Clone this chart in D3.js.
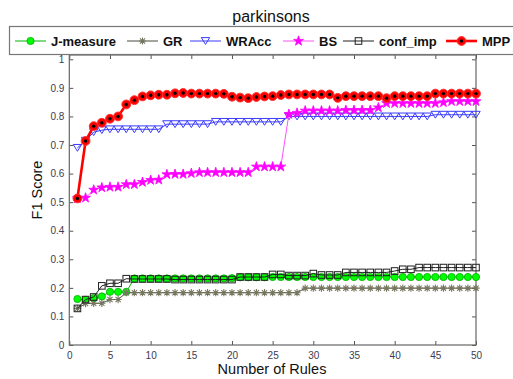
<!DOCTYPE html>
<html>
<head>
<meta charset="utf-8">
<script src="https://cdn.jsdelivr.net/npm/d3@7"></script>
<style>
  body { margin: 0; background: #fff; }
  svg { display: block; font-family: "Liberation Sans", Arial, sans-serif; }
</style>
</head>
<body>
<svg id="chart" width="513" height="379"></svg>
<script>
// number of rules 1..50
const rules = d3.range(1, 51);

const jMeasure = [0.161, 0.158, 0.164, 0.170, 0.186, 0.186, 0.186, 0.233, 0.233, 0.233,
    0.233, 0.233, 0.233, 0.233, 0.233, 0.233, 0.233, 0.233, 0.233, 0.234,
    0.237, 0.237, 0.237, 0.237, 0.238, 0.238, 0.238, 0.238, 0.238, 0.238,
    0.238, 0.238, 0.238, 0.238, 0.238, 0.238, 0.238, 0.238, 0.238, 0.238,
    0.238, 0.238, 0.238, 0.238, 0.238, 0.238, 0.238, 0.238, 0.238, 0.238];

const gr = [0.128, 0.145, 0.146, 0.146, 0.159, 0.159, 0.183, 0.183, 0.183, 0.183,
    0.183, 0.183, 0.183, 0.183, 0.183, 0.183, 0.183, 0.183, 0.183, 0.183,
    0.183, 0.183, 0.183, 0.183, 0.183, 0.183, 0.183, 0.183, 0.199, 0.199,
    0.199, 0.199, 0.199, 0.199, 0.199, 0.199, 0.199, 0.199, 0.199, 0.199,
    0.199, 0.199, 0.199, 0.199, 0.199, 0.199, 0.199, 0.199, 0.199, 0.199];

const wracc = [0.690, 0.715, 0.745, 0.752, 0.755, 0.755, 0.755, 0.755, 0.755, 0.755,
    0.755, 0.773, 0.773, 0.773, 0.773, 0.773, 0.773, 0.781, 0.781, 0.781,
    0.781, 0.781, 0.781, 0.781, 0.781, 0.781, 0.800, 0.800, 0.800, 0.800,
    0.800, 0.800, 0.800, 0.800, 0.800, 0.800, 0.800, 0.800, 0.800, 0.800,
    0.800, 0.800, 0.800, 0.800, 0.806, 0.806, 0.806, 0.806, 0.806, 0.806];

const bs = [0.513, 0.515, 0.543, 0.551, 0.553, 0.553, 0.562, 0.562, 0.570, 0.577,
    0.578, 0.597, 0.598, 0.598, 0.601, 0.604, 0.604, 0.604, 0.604, 0.604,
    0.604, 0.604, 0.624, 0.624, 0.624, 0.624, 0.808, 0.812, 0.820, 0.820,
    0.820, 0.820, 0.820, 0.822, 0.822, 0.822, 0.822, 0.831, 0.846, 0.846,
    0.846, 0.846, 0.846, 0.846, 0.846, 0.849, 0.853, 0.853, 0.853, 0.853];

const confImp = [0.128, 0.159, 0.168, 0.207, 0.216, 0.216, 0.232, 0.231, 0.231, 0.231,
    0.231, 0.231, 0.229, 0.229, 0.229, 0.229, 0.229, 0.229, 0.229, 0.229,
    0.238, 0.238, 0.238, 0.238, 0.247, 0.247, 0.243, 0.243, 0.243, 0.250,
    0.245, 0.245, 0.245, 0.254, 0.254, 0.254, 0.254, 0.254, 0.254, 0.259,
    0.265, 0.265, 0.271, 0.271, 0.271, 0.271, 0.271, 0.271, 0.271, 0.271];

const mpp = [0.513, 0.714, 0.766, 0.778, 0.792, 0.800, 0.842, 0.857, 0.870, 0.874,
    0.876, 0.876, 0.881, 0.882, 0.880, 0.880, 0.880, 0.880, 0.879, 0.869,
    0.866, 0.864, 0.868, 0.870, 0.871, 0.875, 0.877, 0.877, 0.877, 0.877,
    0.877, 0.877, 0.865, 0.871, 0.871, 0.871, 0.871, 0.871, 0.864, 0.871,
    0.871, 0.871, 0.871, 0.871, 0.880, 0.880, 0.880, 0.880, 0.880, 0.880];

const xTicks = [0, 5, 10, 15, 20, 25, 30, 35, 40, 45, 50];
const yTicks = [0, 0.1, 0.2, 0.3, 0.4, 0.5, 0.6, 0.7, 0.8, 0.9, 1];

const plot = { left: 69.3, right: 476, top: 55, bottom: 345 };

const x = d3.scaleLinear().domain([0, 50]).range([plot.left, plot.right]);
const y = d3.scaleLinear().domain([0, 1]).range([plot.bottom, 59.3]);

const svg = d3.select("#chart");

// custom marker shapes
const starPath = d3.symbol().type(d3.symbolStar).size(30)();
const trianglePath = (() => {
    // downward triangle, matlab 'v'
    const w = 4.2, h = 3.4;
    return `M${-w},${-h}L${w},${-h}L0,${h}Z`;
})();
const asteriskPath = (() => {
    const r = 3.6, d = r * 0.72;
    return `M${-r},0L${r},0M0,${-r}L0,${r}M${-d},${-d}L${d},${d}M${-d},${d}L${d},${-d}`;
})();

const series = [
    { name: "J-measure", values: jMeasure, line: "#00b400", width: 1, marker: "circle",
      fill: "#00ff00", stroke: "#00a800" },
    { name: "GR", values: gr, line: "#4a4a40", width: 1, marker: "asterisk",
      fill: "none", stroke: "#77775f" },
    { name: "WRAcc", values: wracc, line: "#3a3aff", width: 1, marker: "triangle",
      fill: "none", stroke: "#3a3aff" },
    { name: "BS", values: bs, line: "#ff50ff", width: 1, marker: "star",
      fill: "#ff00ff", stroke: "#ff00ff" },
    { name: "conf_imp", values: confImp, line: "#202020", width: 1, marker: "square",
      fill: "none", stroke: "#202020" },
    { name: "MPP", values: mpp, line: "#ff0000", width: 2.6, marker: "mpp",
      fill: "#ff0000", stroke: "#ff0000" },
];

function drawMarker(g, s) {
    if (s.marker === "circle") {
        g.append("circle").attr("r", 3.6)
            .attr("fill", s.fill).attr("stroke", s.stroke).attr("stroke-width", 0.8);
    } else if (s.marker === "asterisk") {
        g.append("path").attr("d", asteriskPath)
            .attr("fill", "none").attr("stroke", s.stroke).attr("stroke-width", 1.1);
    } else if (s.marker === "triangle") {
        g.append("path").attr("d", trianglePath)
            .attr("fill", "none").attr("stroke", s.stroke).attr("stroke-width", 1);
    } else if (s.marker === "star") {
        g.append("path").attr("d", starPath)
            .attr("fill", s.fill).attr("stroke", s.stroke).attr("stroke-width", 0.8);
    } else if (s.marker === "square") {
        g.append("rect").attr("x", -3.3).attr("y", -3.3).attr("width", 6.6).attr("height", 6.6)
            .attr("fill", "none").attr("stroke", s.stroke).attr("stroke-width", 1);
    } else if (s.marker === "mpp") {
        g.append("circle").attr("r", 4.4).attr("fill", "#ff0000")
            .attr("stroke", "#ff3030").attr("stroke-width", 1);
        g.append("circle").attr("r", 1.7).attr("fill", "#000");
    }
}

// axes (inward ticks)
const tickFmt = d => d3.format("~g")(d);

svg.append("g")
    .attr("transform", `translate(0,${plot.bottom})`)
    .call(d3.axisBottom(x).tickValues(xTicks).tickSize(-4).tickPadding(7).tickFormat(tickFmt))
    .call(g => g.select(".domain").remove());

svg.append("g")
    .attr("transform", `translate(0,${plot.top})`)
    .call(d3.axisTop(x).tickValues(xTicks).tickSize(-4).tickFormat(""))
    .call(g => g.select(".domain").remove());

svg.append("g")
    .attr("transform", `translate(${plot.left},0)`)
    .call(d3.axisLeft(y).tickValues(yTicks).tickSize(-4).tickPadding(5).tickFormat(tickFmt))
    .call(g => g.select(".domain").remove());

svg.append("g")
    .attr("transform", `translate(${plot.right},0)`)
    .call(d3.axisRight(y).tickValues(yTicks).tickSize(-4).tickFormat(""))
    .call(g => g.select(".domain").remove());

svg.selectAll(".tick line").attr("stroke", "#555");
svg.selectAll(".tick text")
    .attr("fill", "#3c3c50")
    .style("font-size", "10px")
    .style("font-family", "Liberation Sans, Arial, sans-serif");

svg.append("rect")
    .attr("x", plot.left).attr("y", plot.top)
    .attr("width", plot.right - plot.left).attr("height", plot.bottom - plot.top)
    .attr("fill", "none").attr("stroke", "#666").attr("stroke-width", 1.2);

// series
const line = d3.line().x((d, i) => x(rules[i])).y(d => y(d));

series.forEach(s => {
    const g = svg.append("g").attr("class", "series");
    g.append("path")
        .datum(s.values)
        .attr("d", line)
        .attr("fill", "none")
        .attr("stroke", s.line)
        .attr("stroke-width", s.width);
    g.selectAll("g.pt")
        .data(s.values)
        .enter()
        .append("g")
        .attr("class", "pt")
        .attr("transform", (d, i) => `translate(${x(rules[i])},${y(d)})`)
        .each(function () { drawMarker(d3.select(this), s); });
});

// title and labels
svg.append("text")
    .attr("x", 271).attr("y", 22)
    .attr("text-anchor", "middle")
    .style("font-size", "16px")
    .attr("fill", "#111")
    .text("parkinsons");

svg.append("text")
    .attr("x", 272).attr("y", 374)
    .attr("text-anchor", "middle")
    .style("font-size", "14.5px")
    .attr("fill", "#111")
    .text("Number of Rules");

svg.append("text")
    .attr("transform", "translate(42,190) rotate(-90)")
    .attr("text-anchor", "middle")
    .style("font-size", "14.5px")
    .attr("fill", "#111")
    .text("F1 Score");

// legend
const legend = svg.append("g");
legend.append("rect")
    .attr("x", 9.5).attr("y", 26.5).attr("width", 530).attr("height", 28)
    .attr("fill", "#fff").attr("stroke", "#777").attr("stroke-width", 1.2);

const legendX = [15, 127, 190, 283, 343, 446];
series.forEach((s, i) => {
    const lx = legendX[i];
    const g = legend.append("g").attr("transform", `translate(${lx},41)`);
    g.append("line").attr("x1", 0).attr("x2", 31).attr("y1", 0).attr("y2", 0)
        .attr("stroke", s.line).attr("stroke-width", s.width);
    const m = g.append("g").attr("transform", "translate(15.5,0)");
    drawMarker(m, s);
    g.append("text")
        .attr("x", 36).attr("y", 4.6)
        .style("font-size", "13px")
        .style("font-weight", "bold")
        .attr("fill", "#111")
        .text(s.name);
});
</script>
</body>
</html>
